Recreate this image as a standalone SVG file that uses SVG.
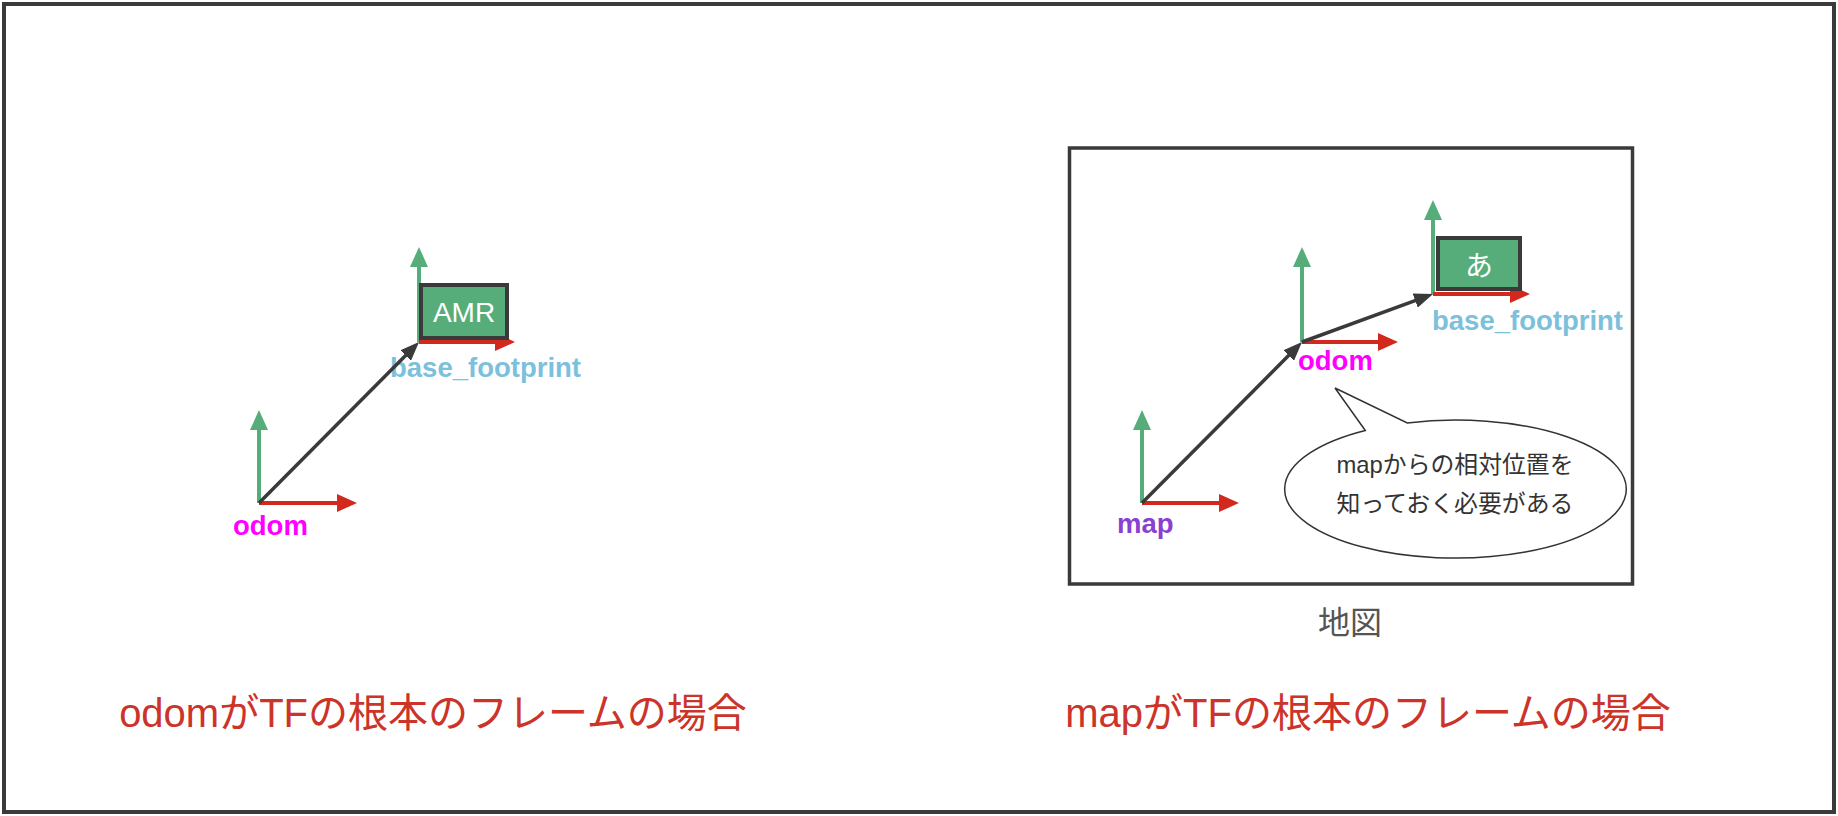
<svg xmlns="http://www.w3.org/2000/svg" width="1838" height="816" viewBox="0 0 1838 816">
<style>
.ax-g{stroke:#57ad7a;stroke-width:4;fill:none}
.ax-r{stroke:#d3281e;stroke-width:4;fill:none}
.conn{stroke:#3a3a3a;stroke-width:3.5;fill:none}
.lbl{font-family:"Liberation Sans",Arial,sans-serif;font-weight:bold;font-size:27.5px}
.bf{fill:#7cc0dc}
.odom{fill:#ff00ff}
.map{fill:#8b3fd0}
.robot{fill:#57ad7a;stroke:#3a3a3a;stroke-width:4}
.robot-t{fill:#ffffff;text-anchor:middle}
.title{font-family:"Liberation Sans","Noto Sans CJK JP",sans-serif;font-size:40px;fill:#cc3329;text-anchor:middle}
.jp{font-family:"Liberation Sans","Noto Sans CJK JP",sans-serif}
</style>
<defs>
<marker id="hg" markerUnits="userSpaceOnUse" markerWidth="20" markerHeight="18" refX="14" refY="9" orient="auto"><path d="M0,0 L20,9 L0,18 z" fill="#57ad7a"/></marker>
<marker id="hr" markerUnits="userSpaceOnUse" markerWidth="20" markerHeight="18" refX="14" refY="9" orient="auto"><path d="M0,0 L20,9 L0,18 z" fill="#d3281e"/></marker>
<marker id="hk" markerUnits="userSpaceOnUse" markerWidth="19" markerHeight="15" refX="13" refY="7.5" orient="auto"><path d="M0,0 L19,7.5 L0,15 z" fill="#3a3a3a"/></marker>
</defs>
<rect width="1838" height="816" fill="#ffffff"/>
<rect id="outer-frame" x="4" y="4" width="1830" height="808" fill="none" stroke="#3a3a3a" stroke-width="4"/>

<!-- LEFT SCENE -->
<g id="left-odom-frame">
<line class="ax-g" x1="259" y1="503" x2="259" y2="416" marker-end="url(#hg)"/>
<line class="ax-r" x1="259" y1="503" x2="351" y2="503" marker-end="url(#hr)"/>
<text class="lbl odom" x="233" y="535">odom</text>
</g>
<g id="left-base-footprint">
<line class="ax-g" x1="419" y1="342" x2="419" y2="253" marker-end="url(#hg)"/>
<line class="ax-r" x1="419" y1="342" x2="509" y2="342" marker-end="url(#hr)"/>
<text class="lbl bf" x="390" y="377">base_footprint</text>
</g>
<g id="left-amr">
<rect class="robot" x="421" y="285" width="86" height="53"/>
<text class="robot-t" x="464" y="322" font-family="Liberation Sans,Arial,sans-serif" font-size="28">AMR</text>
</g>

<!-- RIGHT SCENE -->
<g id="map-area">
<rect x="1069.5" y="148" width="563" height="436" fill="none" stroke="#3a3a3a" stroke-width="3.5"/>
<text class="jp" x="1350" y="634" font-size="32" fill="#555555" text-anchor="middle">地図</text>
</g>
<g id="right-map-frame">
<line class="ax-g" x1="1142" y1="503" x2="1142" y2="416" marker-end="url(#hg)"/>
<line class="ax-r" x1="1142" y1="503" x2="1233" y2="503" marker-end="url(#hr)"/>
<text class="lbl map" x="1117" y="533">map</text>
</g>
<g id="right-odom-frame">
<line class="ax-g" x1="1302" y1="342" x2="1302" y2="253" marker-end="url(#hg)"/>
<line class="ax-r" x1="1302" y1="342" x2="1392" y2="342" marker-end="url(#hr)"/>
<text class="lbl odom" x="1298" y="370">odom</text>
</g>
<g id="right-base-footprint">
<line class="ax-g" x1="1433" y1="294" x2="1433" y2="206" marker-end="url(#hg)"/>
<line class="ax-r" x1="1433" y1="294" x2="1524" y2="294" marker-end="url(#hr)"/>
<text class="lbl bf" x="1432" y="330">base_footprint</text>
</g>
<g id="right-robot">
<rect class="robot" x="1438" y="238" width="82" height="51"/>
<text class="robot-t jp" x="1479" y="276" font-size="28">あ</text>
</g>
<g id="callout">
<path d="M1365.3,430.5 L1335,388 L1407.3,422.9 A170.8,69 0 1 1 1365.3,430.5 Z" fill="#ffffff" stroke="#333333" stroke-width="1.5"/>
<text class="jp" x="1455" y="473" font-size="24" fill="#333333" text-anchor="middle" textLength="237" lengthAdjust="spacingAndGlyphs">mapからの相対位置を</text>
<text class="jp" x="1455" y="512" font-size="24" fill="#333333" text-anchor="middle" textLength="237" lengthAdjust="spacingAndGlyphs">知っておく必要がある</text>
</g>

<!-- CONNECTORS -->
<g id="connectors">
<line class="conn" x1="259" y1="503" x2="414.8" y2="346.3" marker-end="url(#hk)"/>
<line class="conn" x1="1142" y1="503" x2="1297.8" y2="346.3" marker-end="url(#hk)"/>
<line class="conn" x1="1302" y1="342" x2="1427.4" y2="296.1" marker-end="url(#hk)"/>
</g>

<!-- TITLES -->
<g id="title-left"><text class="title" x="433" y="727">odomがTFの根本のフレームの場合</text></g>
<g id="title-right"><text class="title" x="1368" y="727">mapがTFの根本のフレームの場合</text></g>
</svg>
